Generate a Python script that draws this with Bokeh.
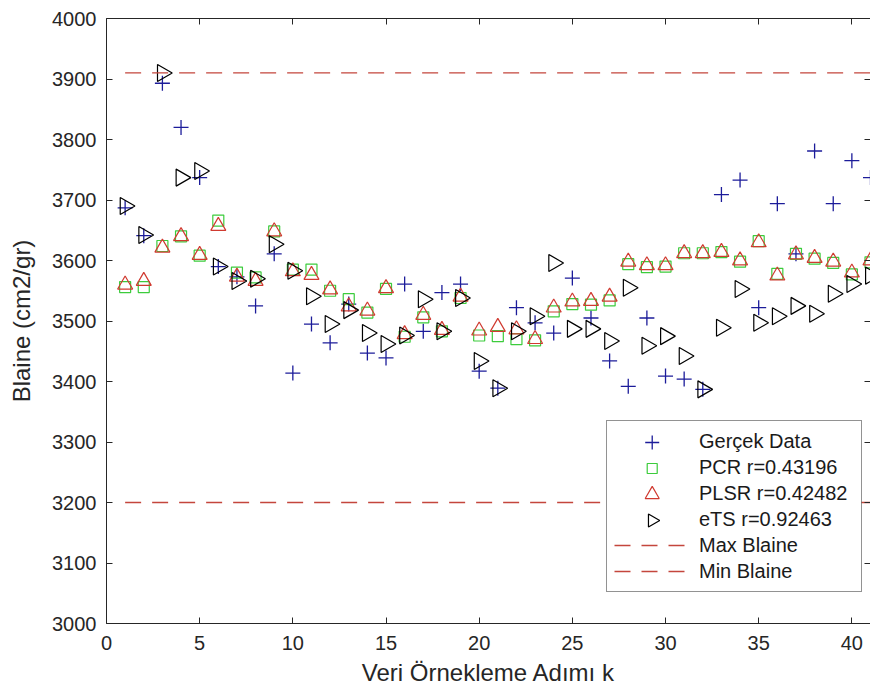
import numpy as np
from bokeh.plotting import figure
from bokeh.models import (Range1d, LinearAxis, FixedTicker, Legend, LegendItem)
from bokeh.embed import file_html
from bokeh.resources import INLINE

# ---------------- data ----------------
k = list(range(1, 42))

gercek = [3687, 3641, 3893, 3820, 3737, 3590, 3573, 3525, 3611, 3414,
          3495, 3464, 3528, 3447, 3439, 3561, 3483, 3547, 3561, 3417,
          3389, 3522, 3497, 3480, 3571, 3505, 3434, 3392, 3505, 3409,
          3404, 3387, 3709, 3733, 3522, 3694, 3611, 3781, 3694, 3765,
          3737]

pcr = [3556, 3556, 3624, 3640, 3608, 3666, 3580, 3572, 3648, 3585,
       3585, 3550, 3536, 3514, 3553, 3474, 3506, 3483, 3538, 3476,
       3475, 3470, 3468, 3516, 3528, 3527, 3534, 3594, 3589, 3590,
       3612, 3612, 3614, 3598, 3632, 3578, 3611, 3603, 3596, 3577,
       3597]

plsr = [3560, 3566, 3621, 3640, 3609, 3657, 3573, 3566, 3648, 3582,
        3576, 3552, 3524, 3517, 3554, 3478, 3510, 3485, 3540, 3484,
        3490, 3486, 3470, 3522, 3532, 3533, 3540, 3598, 3592, 3592,
        3612, 3612, 3614, 3600, 3630, 3575, 3610, 3604, 3598, 3580,
        3600]

ets = [3690, 3642, 3910, 3737, 3748, 3590, 3566, 3570, 3627, 3583,
       3541, 3495, 3518, 3480, 3462, 3476, 3536, 3483, 3538, 3434,
       3389, 3483, 3508, 3596, 3487, 3487, 3467, 3555, 3459, 3475,
       3442, 3387, 3489, 3553, 3497, 3508, 3525, 3512, 3545, 3561,
       3575]

max_blaine = 3910
min_blaine = 3200

labels = ["Gerçek Data", "PCR r=0.43196", "PLSR r=0.42482", "eTS r=0.92463",
          "Max Blaine", "Min Blaine"]

x_ticks = [0, 5, 10, 15, 20, 25, 30, 35, 40]
y_ticks = [3000, 3100, 3200, 3300, 3400, 3500, 3600, 3700, 3800, 3900, 4000]

X_MAX = 41.0
Y_MIN, Y_MAX = 3000, 4000

# ---------------- style / layout ----------------
FONT = "Liberation Sans"
AX_COL = "#262626"
BLUE = "#1c1c9a"
GREEN = "#3ccc3c"
RED = "#d03a30"
BLACK = "#000000"
LINE_RED = "#c4463c"

W, H = 870, 696
BORDER_L, BORDER_T, BORDER_B = 106, 18, 73

p = figure(width=W, height=H,
           x_range=Range1d(0, X_MAX), y_range=Range1d(Y_MIN, Y_MAX),
           output_backend="svg", toolbar_location=None,
           min_border_left=BORDER_L, min_border_top=BORDER_T,
           min_border_bottom=BORDER_B, min_border_right=0,
           background_fill_color="white", border_fill_color="white")
p.outline_line_color = None
p.grid.visible = False

for ax in (p.xaxis[0], p.yaxis[0]):
    ax.major_tick_in = 6
    ax.major_tick_out = 0
    ax.minor_tick_in = 0
    ax.minor_tick_out = 0
    ax.axis_line_color = AX_COL
    ax.major_tick_line_color = AX_COL
    ax.major_label_text_font = FONT
    ax.major_label_text_font_size = "20px"
    ax.major_label_text_color = AX_COL
    ax.axis_label_text_font = FONT
    ax.axis_label_text_font_size = "24px"
    ax.axis_label_text_font_style = "normal"
    ax.axis_label_text_color = AX_COL

p.xaxis[0].ticker = FixedTicker(ticks=x_ticks)
p.yaxis[0].ticker = FixedTicker(ticks=y_ticks)
p.xaxis[0].axis_label = "Veri Örnekleme Adımı k"
p.yaxis[0].axis_label = "Blaine (cm2/gr)"
p.xaxis[0].major_label_standoff = 12
p.xaxis[0].axis_label_standoff = 6
p.yaxis[0].major_label_standoff = 10
p.yaxis[0].axis_label_standoff = 14

# box axes (top / right): inward ticks only, no labels
top = LinearAxis(ticker=FixedTicker(ticks=[], minor_ticks=x_ticks),
                 major_tick_in=0, major_tick_out=0,
                 minor_tick_in=6, minor_tick_out=0,
                 major_label_standoff=0, axis_line_color=AX_COL,
                 minor_tick_line_color=AX_COL, minor_tick_line_width=1)
p.add_layout(top, "above")
right = LinearAxis(ticker=FixedTicker(ticks=[], minor_ticks=y_ticks),
                   major_tick_in=0, major_tick_out=0,
                   minor_tick_in=6, minor_tick_out=0,
                   major_label_standoff=0, axis_line_color=AX_COL,
                   minor_tick_line_color=AX_COL, minor_tick_line_width=1)
p.add_layout(right, "right")

# ---------------- glyphs ----------------
STY = {
    "g": dict(marker="cross", line_color=BLUE, line_width=1.3),
    "pcr": dict(marker="square", line_color=GREEN, fill_color=None, line_width=1.2),
    "plsr": dict(marker="triangle", line_color=RED, fill_color=None, line_width=1.2),
    "ets": dict(marker="triangle", angle=-np.pi / 2, line_color=BLACK,
                fill_color=None, line_width=1.2),
}
SIZES = {"g": 15, "pcr": 11, "plsr": 15, "ets": 17}

r_g = p.scatter(k, gercek, size=SIZES["g"], **STY["g"])
r_pcr = p.scatter(k, pcr, size=SIZES["pcr"], **STY["pcr"])
r_plsr = p.scatter(k, plsr, size=SIZES["plsr"], **STY["plsr"])
r_ets = p.scatter(k, ets, size=SIZES["ets"], **STY["ets"])

DASH = "16 11"
r_max = p.segment(x0=[k[0]], y0=[max_blaine], x1=[X_MAX], y1=[max_blaine],
                  line_color=LINE_RED, line_width=1.3, line_dash=DASH)
r_min = p.segment(x0=[k[0]], y0=[min_blaine], x1=[X_MAX], y1=[min_blaine],
                  line_color=LINE_RED, line_width=1.3, line_dash=DASH)

# ---------------- legend geometry ----------------
LEG_ROW_H = 26
LEG_PAD = 7
LEG_GLYPH_W = 76
LEG_STANDOFF = 9
LEG_LABEL_W = 155
LEG_X, LEG_Y = 500, 31           # from frame bottom-left (px)
n_items = len(labels)
box_w = 2 * LEG_PAD + LEG_GLYPH_W + LEG_STANDOFF + LEG_LABEL_W
box_h = 2 * LEG_PAD + n_items * LEG_ROW_H

FRAME_W = W - BORDER_L - 1
FRAME_H = H - BORDER_T - BORDER_B
px_x = X_MAX / FRAME_W
px_y = (Y_MAX - Y_MIN) / FRAME_H

# opaque legend background (drawn as glyph so the symbols can sit on it)
p.quad(left=[LEG_X * px_x], right=[(LEG_X + box_w) * px_x],
       bottom=[Y_MIN + LEG_Y * px_y], top=[Y_MIN + (LEG_Y + box_h) * px_y],
       fill_color="white", line_color=None)

# legend marker symbols at full marker size (Bokeh shrinks/unrotates them)
LEG_SIZES = {"g": 14, "pcr": 10, "plsr": 14, "ets": 13}
fx = LEG_X + LEG_PAD + LEG_GLYPH_W / 2
for i, key in enumerate(["g", "pcr", "plsr", "ets"]):
    fy = LEG_Y + box_h - (LEG_PAD + i * LEG_ROW_H + LEG_ROW_H / 2)
    p.scatter([fx * px_x], [Y_MIN + fy * px_y], size=LEG_SIZES[key], **STY[key])

r_blank = p.scatter(x=[], y=[], marker="triangle", line_alpha=0, fill_alpha=0)

legend = Legend(items=[LegendItem(label=labels[0], renderers=[r_blank]),
                       LegendItem(label=labels[1], renderers=[r_blank]),
                       LegendItem(label=labels[2], renderers=[r_blank]),
                       LegendItem(label=labels[3], renderers=[r_blank]),
                       LegendItem(label=labels[4], renderers=[r_max]),
                       LegendItem(label=labels[5], renderers=[r_min])],
                location=(LEG_X, LEG_Y))
legend.label_text_font = FONT
legend.label_text_font_size = "20px"
legend.label_text_color = "#1a1a1a"
legend.label_height = LEG_ROW_H
legend.glyph_height = LEG_ROW_H
legend.glyph_width = LEG_GLYPH_W
legend.label_width = LEG_LABEL_W
legend.label_standoff = LEG_STANDOFF
legend.spacing = 0
legend.padding = LEG_PAD
legend.margin = 0
legend.border_line_color = AX_COL
legend.border_line_width = 1
legend.background_fill_alpha = 0.0
p.add_layout(legend, "center")

open("out.html", "w").write(file_html(p, INLINE))
